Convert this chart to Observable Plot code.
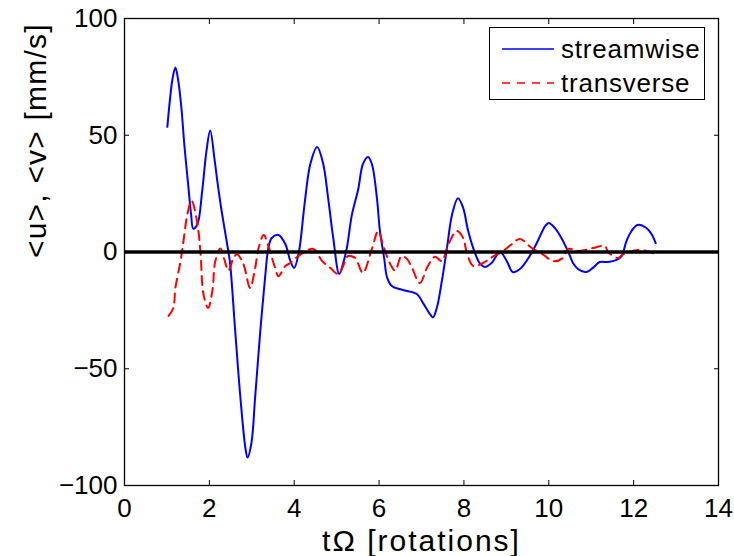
<!DOCTYPE html>
<html><head><meta charset="utf-8">
<script src="https://cdn.jsdelivr.net/npm/d3@7"></script>
<script src="https://cdn.jsdelivr.net/npm/@observablehq/plot@0.6"></script>
<style>
body{margin:0;background:#fff;}
#wrap{position:relative;width:734px;height:556px;font-family:"Liberation Sans",Arial,sans-serif;}
#legend{position:absolute;left:489px;top:27px;width:214px;height:71px;border:1.5px solid #000;background:#fff;}
#legend svg{position:absolute;left:0;top:0;}
</style></head><body><div id="wrap"></div>
<script>
// streamwise <u>
const streamT = [1.01,1.07,1.13,1.2,1.27,1.34,1.41,1.5,1.57,1.62,1.72,1.83,1.93,2.02,2.12,2.19,2.26,2.33,2.45,2.49,2.61,2.73,2.85,2.9,2.99,3.08,3.2,3.32,3.39,3.47,3.63,3.79,3.91,4.0,4.1,4.14,4.26,4.38,4.54,4.68,4.8,4.92,5.06,5.15,5.24,5.36,5.51,5.62,5.74,5.83,5.95,6.02,6.12,6.19,6.3,6.56,6.89,7.04,7.2,7.27,7.36,7.48,7.6,7.72,7.86,7.98,8.1,8.26,8.38,8.49,8.65,8.85,9.01,9.15,9.32,9.55,9.74,9.91,10.0,10.14,10.31,10.47,10.57,10.69,10.89,11.04,11.2,11.39,11.6,11.72,11.83,11.95,12.09,12.3,12.42,12.52];
const streamU = [53.6,65,74,79,73,62,46,29,16,10,12,26,43,52,40,30,21,13,0,-5,-34,-62,-84,-88,-82,-62,-34,-9.6,1.7,6,7.3,3.4,-3.9,-6.8,-1,3.4,23,37.7,45,38,23,6,-9.4,-5,1.7,16,27,37.7,40.7,37.7,23,9,-2.6,-11,-14.6,-16.3,-18,-22,-26.6,-28,-24,-12.4,1.7,16,23,19,9,-0.4,-5,-6.4,-4.7,0,-3.9,-8.6,-7.3,-1.7,4.7,11,12.4,10.3,5.6,-0.4,-4.7,-7.3,-8.6,-6.8,-4.3,-4.3,-3.4,-1.7,4.7,9,11.6,10.3,7.7,3.8];
// transverse <v>
const transT = [1.04,1.15,1.2,1.32,1.39,1.48,1.58,1.71,1.79,1.86,1.97,2.07,2.14,2.26,2.35,2.45,2.56,2.65,2.8,2.96,3.08,3.16,3.28,3.39,3.55,3.63,3.79,3.91,4.1,4.45,4.66,4.85,5.04,5.2,5.27,5.44,5.5,5.62,5.83,5.98,6.1,6.26,6.38,6.53,6.66,6.78,6.96,7.15,7.32,7.48,7.62,7.83,7.98,8.07,8.22,8.45,8.68,8.92,9.13,9.32,9.6,9.86,10.1,10.33,10.45,10.73,11.04,11.32,11.4,11.63,11.75,12.14,12.54];
const transV = [-27.4,-24,-15.4,-4,4.7,16,22,13,0,-18,-24,-16.7,-4,1.5,-3,-8,-3,-1,-5,-15.4,-6.8,1.7,7.3,2.6,-6.8,-10.4,-6,-4.7,-1.7,1.3,-3.9,-6.8,-9.4,-3.9,-1.7,-2.6,-4.7,-9,1.3,9,2.6,-5,-8,-1.7,-3,-6.9,-13.3,-6,-2,-3.9,2.6,9,6,-0.4,-6,-4.7,-2,0.4,3.4,5.6,1.7,-1,-3.9,-2.6,1.3,0.4,1.7,2.6,0,-2.6,-1,0.9,-1];
const xTicks = [0,2,4,6,8,10,12,14];
const yTicks = [-100,-50,0,50,100];
const seriesNames = ["streamwise","transverse"];
const seriesColors = ["#0000ff","#ff0000"];
const xLabel = "tΩ [rotations]";
const yLabel = "<u>, <v> [mm/s]";

const stream = streamT.map((t,i)=>({t, v: streamU[i]}));
const trans = transT.map((t,i)=>({t, v: transV[i]}));
const fmt = d => d < 0 ? "\u2212" + Math.abs(d) : String(d);

const plot = Plot.plot({
  width:734, height:556,
  marginLeft:124, marginRight:16, marginTop:18, marginBottom:71,
  style:{fontFamily:"'Liberation Sans', Arial, sans-serif", background:"white", color:"black"},
  x:{domain:[0,14]},
  y:{domain:[-100,100]},
  marks:[
    Plot.line(stream, {x:"t", y:"v", stroke:seriesColors[0], strokeWidth:2, curve:"catmull-rom"}),
    Plot.line(trans, {x:"t", y:"v", stroke:seriesColors[1], strokeWidth:2, strokeDasharray:"9,6", curve:"catmull-rom"}),
    Plot.ruleY([0], {stroke:"black", strokeWidth:3.5}),
    Plot.frame({stroke:"black", strokeWidth:1.3}),
    Plot.axisX(xTicks, {anchor:"bottom", tickSize:-5, tickPadding:18.5, fontSize:26, tickFormat:fmt, label:null}),
    Plot.axisX(xTicks, {anchor:"top", tickSize:-5, tickFormat:()=>"", label:null}),
    Plot.axisY(yTicks, {anchor:"left", tickSize:-5, tickPadding:12, fontSize:26, tickFormat:fmt, label:null}),
    Plot.axisY(yTicks, {anchor:"right", tickSize:-5, tickFormat:()=>"", label:null}),
    Plot.text([xLabel], {text:d=>d, frameAnchor:"bottom", dy:65, fontSize:30}),
    Plot.text([yLabel], {text:d=>d, frameAnchor:"left", rotate:-90, dx:-88, dy:6, fontSize:30})
  ]
});
const labels = d3.select(plot).selectAll("g[aria-label='text'] text");
labels.each(function(){
  const t = d3.select(this).text();
  d3.select(this).attr("letter-spacing", t === yLabel ? "1.2px" : "2px");
});
const wrap = document.getElementById("wrap");
wrap.appendChild(plot);

// legend
const leg = document.createElement("div");
leg.id = "legend";
wrap.appendChild(leg);
const ls = d3.select(leg).append("svg").attr("width",214).attr("height",71);
seriesNames.forEach((name,i)=>{
  const y = 21 + i*34;
  ls.append("line").attr("x1",12).attr("x2",64).attr("y1",y).attr("y2",y)
    .attr("stroke",seriesColors[i]).attr("stroke-width",1.6)
    .attr("stroke-dasharray", i===1 ? "8,7" : null);
  ls.append("text").attr("x",71).attr("y",y+9).text(name)
    .attr("font-size",26).attr("letter-spacing","0.8px")
    .attr("font-family","'Liberation Sans', Arial, sans-serif");
});
</script>
</body></html>
